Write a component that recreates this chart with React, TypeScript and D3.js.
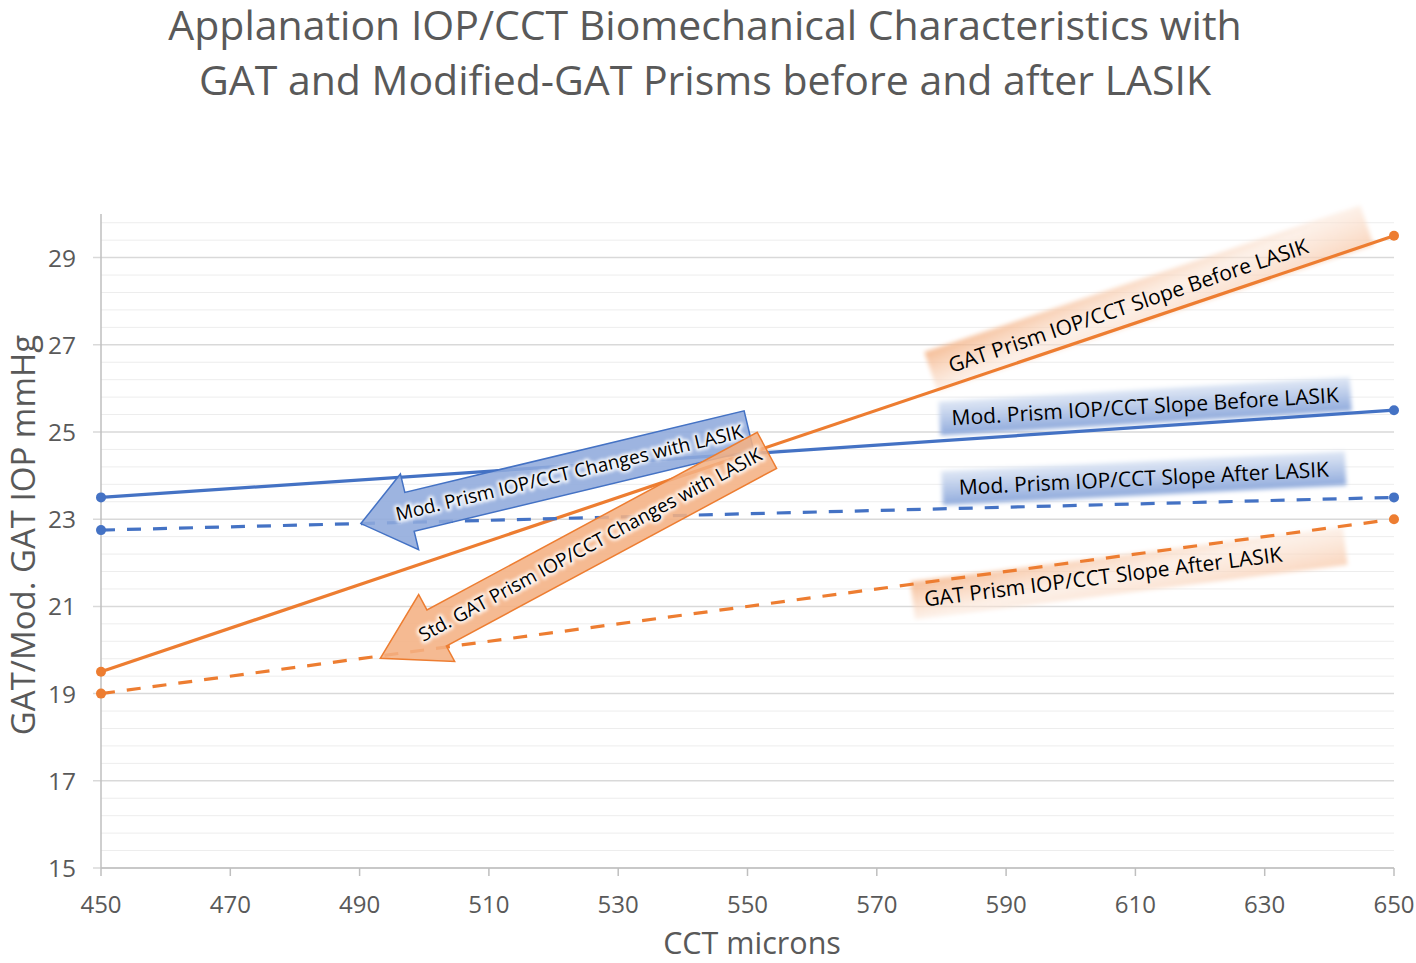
import React from "react";
import * as d3 from "d3";

// ---------- data ----------
const cct = [450, 650];
const gatBefore = [19.5, 29.5];
const gatAfter = [19, 23];
const modBefore = [23.5, 25.5];
const modAfter = [22.75, 23.5];
const xTicks = [450, 470, 490, 510, 530, 550, 570, 590, 610, 630, 650];
const yTicks = [15, 17, 19, 21, 23, 25, 27, 29];

const titleLines = [
  "Applanation IOP/CCT Biomechanical Characteristics with",
  "GAT and Modified-GAT Prisms before and after LASIK",
];
const xLabel = "CCT microns";
const yLabel = "GAT/Mod. GAT IOP mmHg";

const BLUE = "#4472C4";
const ORANGE = "#ED7D31";

const series = [
  { name: "GAT Prism Before", values: gatBefore, color: ORANGE, dashed: false },
  { name: "GAT Prism After", values: gatAfter, color: ORANGE, dashed: true },
  { name: "Mod Prism Before", values: modBefore, color: BLUE, dashed: false },
  { name: "Mod Prism After", values: modAfter, color: BLUE, dashed: true },
];

// label boxes (center in data coords)
const labelBoxes = [
  { text: "GAT Prism IOP/CCT Slope Before LASIK", cx: 612.1, cy: 28.06, angle: -18.6, w: 460, h: 42, dx: -22, kind: "orange" },
  { text: "Mod. Prism IOP/CCT Slope Before LASIK", cx: 611.5, cy: 25.59, angle: -3.4, w: 412, h: 34, dx: 0, kind: "blue" },
  { text: "Mod. Prism IOP/CCT Slope After LASIK", cx: 611.3, cy: 23.94, angle: -2.8, w: 404, h: 34, dx: 0, kind: "blue" },
  { text: "GAT Prism IOP/CCT Slope After LASIK", cx: 609, cy: 21.76, angle: -7.2, w: 436, h: 38, dx: -26, kind: "orange" },
];

// arrows (tip and tail in data coords)
const arrows = [
  { text: "Mod. Prism IOP/CCT Changes with LASIK", tip: [490.2, 22.9], tail: [550.2, 25.04], bw: 40, hw: 78, hl: 50, kind: "blue" },
  { text: "Std. GAT Prism IOP/CCT Changes with LASIK", tip: [493.2, 19.81], tail: [553, 24.58], bw: 41, hw: 76, hl: 64, kind: "orange" },
];

const FONT = "'Open Sans', 'Noto Sans', sans-serif";

export default function App() {
  const W = 1416;
  const H = 963;
  const left = 101;
  const right = 1394;
  const top = 214;
  const bottom = 868;

  const x = d3.scaleLinear().domain([450, 650]).range([left, right]);
  const y = d3.scaleLinear().domain([15, 30]).range([bottom, top]);

  const minor = d3
    .range(15.4, 29.9, 0.4)
    .filter((v) => Math.abs((v - 15) / 2 - Math.round((v - 15) / 2)) > 0.01);

  const line = d3
    .line<number>()
    .x((_, i) => x(cct[i]))
    .y((d) => y(d));

  return (
    <svg width={W} height={H} style={{ position: "absolute", left: 0, top: 0, background: "#fff" }} fontFamily={FONT}>
      <defs>
        <linearGradient id="gBlue" x1="0" y1="0" x2="0" y2="1">
          <stop offset="0" stopColor="#DCE5F4" stopOpacity="0.9" />
          <stop offset="1" stopColor="#8FAADC" stopOpacity="1" />
        </linearGradient>
        <linearGradient id="gOrange" x1="0" y1="0" x2="1" y2="1">
          <stop offset="0" stopColor="#F4B183" stopOpacity="0.85" />
          <stop offset="0.5" stopColor="#FBE5D6" stopOpacity="0.55" />
          <stop offset="1" stopColor="#F8CBAD" stopOpacity="0.8" />
        </linearGradient>
        <filter id="soft" x="-10%" y="-30%" width="120%" height="160%">
          <feGaussianBlur stdDeviation="2" />
        </filter>
        <filter id="halo" x="-5%" y="-50%" width="110%" height="200%">
          <feGaussianBlur stdDeviation="1.8" />
        </filter>
      </defs>

      {/* title */}
      {titleLines.map((t, i) => (
        <text key={i} x={705} y={40 + i * 55} textAnchor="middle" fontSize={41} fill="#595959">
          {t}
        </text>
      ))}

      {/* minor gridlines */}
      {minor.map((v) => (
        <line key={"m" + v} x1={left} x2={right} y1={y(v)} y2={y(v)} stroke="#EDEDED" strokeWidth={1} />
      ))}
      {/* major gridlines */}
      {yTicks.map((v) => (
        <line key={"M" + v} x1={left - 8} x2={right} y1={y(v)} y2={y(v)} stroke="#D9D9D9" strokeWidth={1.5} />
      ))}
      {/* axes */}
      <line x1={left} x2={left} y1={top} y2={bottom} stroke="#BFBFBF" strokeWidth={1.5} />
      <line x1={left} x2={right} y1={bottom} y2={bottom} stroke="#BFBFBF" strokeWidth={1.5} />
      {xTicks.map((v) => (
        <line key={"xt" + v} x1={x(v)} x2={x(v)} y1={bottom} y2={bottom + 8} stroke="#BFBFBF" strokeWidth={1.5} />
      ))}

      {/* tick labels */}
      {yTicks.map((v) => (
        <text key={"yl" + v} x={76} y={y(v) + 9} textAnchor="end" fontSize={24.5} fill="#595959">
          {v}
        </text>
      ))}
      {xTicks.map((v) => (
        <text key={"xl" + v} x={x(v)} y={913} textAnchor="middle" fontSize={24} fill="#595959">
          {v}
        </text>
      ))}

      {/* axis titles */}
      <text x={752} y={954} textAnchor="middle" fontSize={30.5} fill="#595959">
        {xLabel}
      </text>
      <text transform={`translate(35,535) rotate(-90)`} textAnchor="middle" fontSize={33} fill="#595959">
        {yLabel}
      </text>

      {/* label boxes (behind lines) */}
      {labelBoxes.map((b, i) => (
        <g key={"lb" + i} transform={`translate(${x(b.cx)},${y(b.cy)}) rotate(${b.angle})`}>
          <rect
            x={-b.w / 2}
            y={-b.h / 2}
            width={b.w}
            height={b.h}
            fill={b.kind === "blue" ? "url(#gBlue)" : "url(#gOrange)"}
            filter="url(#soft)"
          />
        </g>
      ))}

      {/* series lines */}
      {series.map((s) => (
        <g key={s.name}>
          <path
            d={line(s.values) || ""}
            fill="none"
            stroke={s.color}
            strokeWidth={3.2}
            strokeDasharray={s.dashed ? "14,12" : undefined}
          />
          {s.values.map((v, i) => (
            <circle key={i} cx={x(cct[i])} cy={y(v)} r={5} fill={s.color} />
          ))}
        </g>
      ))}

      {/* label box texts */}
      {labelBoxes.map((b, i) => (
        <g key={"lt" + i} transform={`translate(${x(b.cx)},${y(b.cy)}) rotate(${b.angle})`}>
          <text x={b.dx} y={7.5} textAnchor="middle" fontSize={21} fill="#000">
            {b.text}
          </text>
        </g>
      ))}

      {/* arrows */}
      {arrows.map((a, i) => {
        const tx = x(a.tip[0]);
        const ty = y(a.tip[1]);
        const ex = x(a.tail[0]);
        const ey = y(a.tail[1]);
        const L = Math.hypot(ex - tx, ey - ty);
        const ang = (Math.atan2(ey - ty, ex - tx) * 180) / Math.PI;
        const pts = [
          [0, 0],
          [a.hl, -a.hw / 2],
          [a.hl, -a.bw / 2],
          [L, -a.bw / 2],
          [L, a.bw / 2],
          [a.hl, a.bw / 2],
          [a.hl, a.hw / 2],
        ];
        const blue = a.kind === "blue";
        const textX = (a.hl * 0.6 + L) / 2;
        return (
          <g key={"ar" + i} transform={`translate(${tx},${ty}) rotate(${ang})`}>
            <polygon
              points={pts.map((p) => p.join(",")).join(" ")}
              fill={blue ? "#8FAADC" : "#F4B183"}
              fillOpacity={0.88}
              stroke={blue ? BLUE : ORANGE}
              strokeWidth={1.5}
              strokeLinejoin="miter"
            />
            <text
              x={textX}
              y={6}
              textAnchor="middle"
              fontSize={19}
              fill="#fff"
              stroke="#fff"
              strokeWidth={5}
              strokeLinejoin="round"
              opacity={0.85}
              filter="url(#halo)"
            >
              {a.text}
            </text>
            <text x={textX} y={6} textAnchor="middle" fontSize={19} fill="#000">
              {a.text}
            </text>
          </g>
        );
      })}
    </svg>
  );
}
